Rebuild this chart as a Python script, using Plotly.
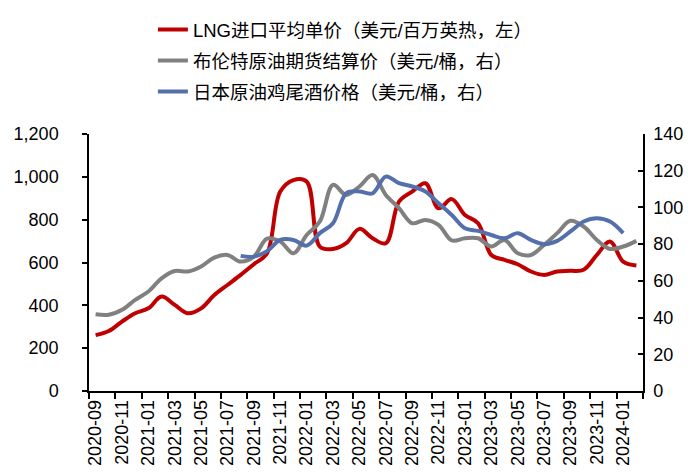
import plotly.graph_objects as go

months = [
    "2020-09", "2020-10", "2020-11", "2020-12",
    "2021-01", "2021-02", "2021-03", "2021-04", "2021-05", "2021-06",
    "2021-07", "2021-08", "2021-09", "2021-10", "2021-11", "2021-12",
    "2022-01", "2022-02", "2022-03", "2022-04", "2022-05", "2022-06",
    "2022-07", "2022-08", "2022-09", "2022-10", "2022-11", "2022-12",
    "2023-01", "2023-02", "2023-03", "2023-04", "2023-05", "2023-06",
    "2023-07", "2023-08", "2023-09", "2023-10", "2023-11", "2023-12",
    "2024-01", "2024-02",
]

lng_price = [
    261, 280, 324, 363, 386, 441, 402, 363, 386, 448,
    495, 542, 592, 643, 931, 985, 978, 674, 663, 690,
    757, 713, 690, 884, 931, 970, 853, 896, 822, 783,
    635, 612, 592, 558, 542, 558, 561, 566, 635, 698,
    604, 586,
]

brent_price = [
    41.8, 41.5, 44.2, 49.6, 54.2, 61.4, 65.4, 65.1, 67.8, 72.7,
    74.1, 70.5, 73.2, 83.0, 81.4, 75.0, 85.0, 92.3, 112.3, 106.8,
    111.4, 117.7, 106.8, 99.6, 91.4, 93.2, 90.5, 82.0, 83.2, 83.2,
    78.7, 82.3, 75.0, 74.1, 79.6, 86.0, 92.7, 89.6, 82.3, 77.4,
    78.7, 81.8,
]

japan_cocktail = [
    None, None, None, None, None, None, None, None, None, None,
    None, 73.6, 73.2, 76.2, 82.3, 82.3, 79.2, 86.0, 91.4, 107.7,
    108.7, 107.7, 116.8, 113.2, 111.4, 108.7, 102.3, 95.9, 88.7, 87.2,
    85.0, 83.2, 86.0, 82.3, 80.0, 81.8, 86.9, 92.3, 94.1, 92.3,
    86.0, None,
]

names = [
    "LNG进口平均单价（美元/百万英热，左）",
    "布伦特原油期货结算价（美元/桶，右）",
    "日本原油鸡尾酒价格（美元/桶，右）",
]
colors = ["#C00000", "#808080", "#5470AC"]

FONT = "Arial, Liberation Sans, Noto Sans CJK SC, sans-serif"

fig = go.Figure()
fig.add_trace(go.Scatter(
    x=months, y=lng_price, name=names[0], mode="lines",
    line=dict(color=colors[0], width=4, shape="spline"),
    legendgroup="a", yaxis="y",
))
fig.add_trace(go.Scatter(
    x=months, y=brent_price, name=names[1], mode="lines",
    line=dict(color=colors[1], width=4, shape="spline"),
    legendgroup="b", yaxis="y2",
))
fig.add_trace(go.Scatter(
    x=months, y=japan_cocktail, name=names[2], mode="lines",
    line=dict(color=colors[2], width=4, shape="spline"),
    legendgroup="c", yaxis="y2", connectgaps=False,
))

fig.update_layout(
    width=700, height=476,
    margin=dict(l=81, r=65, t=126, b=93, autoexpand=False),
    paper_bgcolor="white", plot_bgcolor="white",
    font=dict(family=FONT, size=18, color="#000000"),
    showlegend=True,
    legend=dict(
        xref="container", yref="container",
        x=0.207, y=0.994, xanchor="left", yanchor="top",
        orientation="v", tracegroupgap=4,
        font=dict(family=FONT, size=18.5, color="#000000"),
        bgcolor="rgba(0,0,0,0)",
    ),
    xaxis=dict(
        type="category", range=[-0.5, len(months) - 0.5],
        tickmode="linear", tick0=0, dtick=2, tickson="boundaries",
        ticks="outside", ticklen=6, tickwidth=1.5, tickcolor="#000",
        showline=True, linecolor="#000", linewidth=1.5,
        showgrid=False, tickangle=-90,
        tickfont=dict(family=FONT, size=18, color="#000"),
    ),
    yaxis=dict(
        range=[0, 1200], tickmode="linear", tick0=0, dtick=200,
        tickformat=",d", ticks="outside", ticklen=5, tickwidth=1.5,
        tickcolor="#000", showline=True, linecolor="#000", linewidth=1.5,
        showgrid=False, zeroline=False, ticklabelstandoff=20,
        tickfont=dict(family=FONT, size=18, color="#000"),
    ),
    yaxis2=dict(
        range=[0, 140], tickmode="linear", tick0=0, dtick=20,
        overlaying="y", side="right", ticks="inside", ticklen=5,
        tickwidth=1.5, tickcolor="#000", showline=True, linecolor="#000",
        linewidth=1.5, showgrid=False, zeroline=False, ticklabelstandoff=5,
        tickfont=dict(family=FONT, size=18, color="#000"),
    ),
)

fig.write_html("out.html")
